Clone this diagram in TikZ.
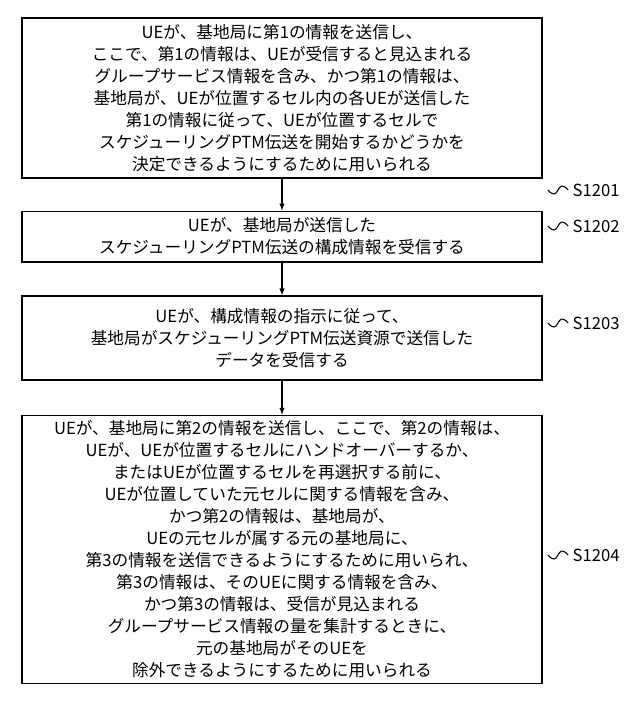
\documentclass[tikz,border=0pt]{standalone}
\usepackage{fontspec}
\setmainfont{Noto Sans CJK JP}
\usetikzlibrary{positioning}
\begin{document}
\begin{tikzpicture}[x=0.75pt, y=-0.75pt,
	step box/.style={draw, line width=1pt, minimum width=390pt, align=center, font=\fontsize{12.5}{16.5}\selectfont, inner sep=4pt},
	flow/.style={-latex, line width=0.8pt},
	tag/.style={font=\fontsize{12.5}{14}\selectfont\rmfamily}]
	\useasboundingbox (0,0) rectangle (640,711);
	\node[step box, minimum height=120pt] (s1) at (282,98) {UEが、基地局に第1の情報を送信し、\\ここで、第1の情報は、UEが受信すると見込まれる\\グループサービス情報を含み、かつ第1の情報は、\\基地局が、UEが位置するセル内の各UEが送信した\\第1の情報に従って、UEが位置するセルで\\スケジューリングPTM伝送を開始するかどうかを\\決定できるようにするために用いられる};
	\node[step box, minimum height=38pt] (s2) at (282,236.5) {UEが、基地局が送信した\\スケジューリングPTM伝送の構成情報を受信する};
	\node[step box, minimum height=63pt] (s3) at (282,338) {UEが、構成情報の指示に従って、\\基地局がスケジューリングPTM伝送資源で送信した\\データを受信する};
	\node[step box, minimum height=200pt] (s4) at (282,549.5) {UEが、基地局に第2の情報を送信し、ここで、第2の情報は、\\UEが、UEが位置するセルにハンドオーバーするか、\\またはUEが位置するセルを再選択する前に、\\UEが位置していた元セルに関する情報を含み、\\かつ第2の情報は、基地局が、\\UEの元セルが属する元の基地局に、\\第3の情報を送信できるようにするために用いられ、\\第3の情報は、そのUEに関する情報を含み、\\かつ第3の情報は、受信が見込まれる\\グループサービス情報の量を集計するときに、\\元の基地局がそのUEを\\除外できるようにするために用いられる};
	\draw[flow] (s1) -- (s2);
	\draw[flow] (s2) -- (s3);
	\draw[flow] (s3) -- (s4);
	% step labels
	\node[tag, anchor=west] (t1) at (568,190) {S1201};
	\node[tag, anchor=west] (t2) at (568,226) {S1202};
	\node[tag, anchor=west] (t3) at (568,323) {S1203};
	\node[tag, anchor=west] (t4) at (568,555) {S1204};
	\foreach \t/\y in {t1/190,t2/226,t3/323,t4/555}
		\draw[line width=0.8pt] (\t.west) .. controls (556,\y-14) and (560,\y+14) .. (548,\y);
\end{tikzpicture}
\end{document}
